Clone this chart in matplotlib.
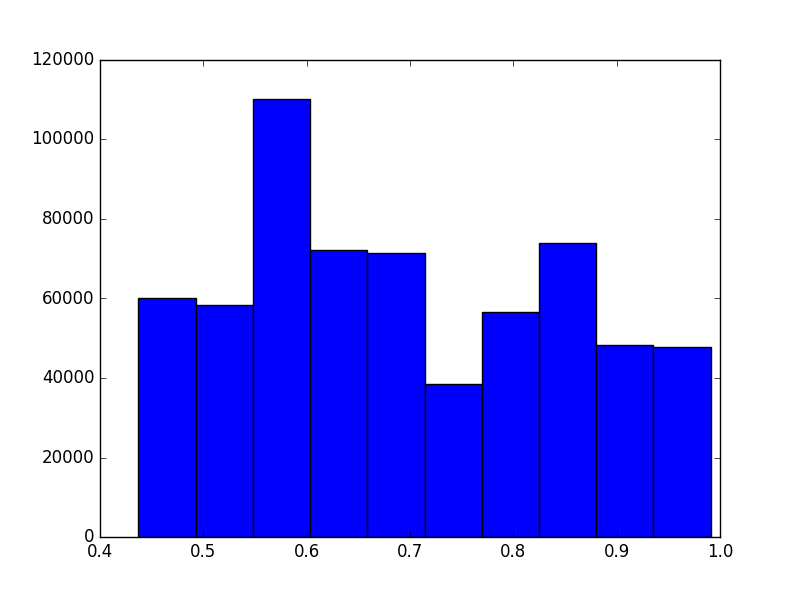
import matplotlib
matplotlib.use('Agg')
import matplotlib.pyplot as plt
import numpy as np

# histogram bin edges and counts
bin_edges = [0.4372, 0.4926, 0.5480, 0.6033, 0.6587, 0.7141,
             0.7694, 0.8248, 0.8802, 0.9355, 0.9909]
counts = [60240, 58300, 110000, 72300, 71370, 38450, 56550, 73880, 48250, 47750]

plt.style.use('classic')
fig = plt.figure(figsize=(8, 5.97), dpi=100)
ax = fig.add_subplot(111)

edges = np.array(bin_edges)
ax.bar(edges[:-1], counts, width=np.diff(edges), align='edge',
       color='b', edgecolor='k', linewidth=1)

ax.set_xlim(0.4, 1.0)
ax.set_ylim(0, 120000)

fig.savefig('out.png', dpi=100)
